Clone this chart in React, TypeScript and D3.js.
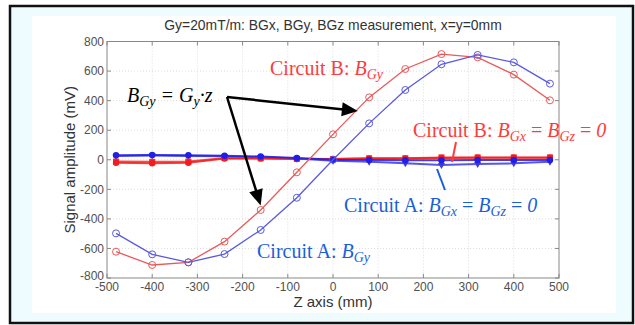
import React from 'react';
import * as d3 from 'd3';

// z positions (mm) where the field was sampled
const zPositions = [-480, -400, -320, -240, -160, -80, 0, 80, 160, 240, 320, 400, 480];

// Circuit A (blue) and circuit B (red), signal amplitude in mV
const circuitA_BGy = [-498, -640, -694, -638, -475, -257, 0, 246, 472, 646, 709, 659, 515];
const circuitB_BGy = [-622, -712, -694, -554, -340, -85, 172, 422, 614, 715, 693, 576, 402];
const circuitA_BGx = [30, 32, 30, 27, 22, 12, 0, -2, -3, -3, -2, -2, -2];
const circuitA_BGz = [25, 28, 26, 24, 18, 8, -6, -13, -24, -35, -29, -24, -13];
const circuitB_BGx = [-20, -24, -20, 8, 8, 5, 5, 8, 8, 12, 14, 14, 14];
const circuitB_BGz = [-12, -14, -12, 12, 10, 6, 5, 10, 10, 16, 16, 16, 16];

const xTicks = [-500, -400, -300, -200, -100, 0, 100, 200, 300, 400, 500];
const yTicks = [-800, -600, -400, -200, 0, 200, 400, 600, 800];

// arrow targets for the B_Gy = Gy·z note, in data units
const arrowTargets = [
  [55, 330],
  [-160, -310],
];

const W = 635;
const H = 325;
const sans = 'Liberation Sans, Arial, sans-serif';
const serif = 'Liberation Serif, Times New Roman, serif';

const RED = '#ff3b3b';
const BLUE = '#1a5fd8';

const x = d3.scaleLinear().domain([-500, 500]).range([107, 559]);
const y = d3.scaleLinear().domain([-800, 800]).range([278, 41.5]);

const lineFor = (vals: number[]) =>
  d3
    .line<number>()
    .x((_, i) => x(zPositions[i]))
    .y((d) => y(d))(vals) || '';

const Sub = ({ children }: { children: React.ReactNode }) => (
  <tspan fontSize={14} dy={4}>
    {children}
  </tspan>
);

function arrowHead(x0: number, y0: number, x1: number, y1: number, len = 16, half = 7) {
  const a = Math.atan2(y1 - y0, x1 - x0);
  const bx = x1 - len * Math.cos(a);
  const by = y1 - len * Math.sin(a);
  const px = -Math.sin(a) * half;
  const py = Math.cos(a) * half;
  return `${x1},${y1} ${bx + px},${by + py} ${bx - px},${by - py}`;
}

export default function App() {
  const [x0, y0] = [227, 97];
  const flatSeries = [
    { vals: circuitA_BGz, color: '#3a3ae0', marker: 'tri' },
    { vals: circuitB_BGz, color: '#f03030', marker: 'sq' },
    { vals: circuitB_BGx, color: '#f21c1c', marker: 'dot' },
    { vals: circuitA_BGx, color: '#1f1fe8', marker: 'dot' },
  ];

  return (
    <svg width={W} height={H} style={{ position: 'absolute', left: 0, top: 0 }}>
      <rect x={0} y={0} width={W} height={H} fill="#ffffff" />
      <rect x={10} y={6} width={623} height={317} fill="#effcff" stroke="#111" strokeWidth={2.5} />
      <rect x={32} y={16} width={584} height={297} fill="#ffffff" />

      {/* title */}
      <text x={333} y={30} textAnchor="middle" fontFamily={sans} fontSize={13.9} fill="#333">
        Gy=20mT/m: BGx, BGy, BGz measurement, x=y=0mm
      </text>

      {/* grid */}
      <g stroke="#dcdcdc" strokeWidth={1} strokeDasharray="1,2">
        {xTicks.slice(1, -1).map((t) => (
          <line key={'gx' + t} x1={x(t)} x2={x(t)} y1={y(800)} y2={y(-800)} />
        ))}
        {yTicks.slice(1, -1).map((t) => (
          <line key={'gy' + t} x1={x(-500)} x2={x(500)} y1={y(t)} y2={y(t)} />
        ))}
      </g>

      {/* box and inward ticks */}
      <rect x={x(-500)} y={y(800)} width={x(500) - x(-500)} height={y(-800) - y(800)} fill="none" stroke="#888" />
      <g stroke="#888">
        {xTicks.map((t) => (
          <g key={'tx' + t}>
            <line x1={x(t)} x2={x(t)} y1={y(-800)} y2={y(-800) - 4} />
            <line x1={x(t)} x2={x(t)} y1={y(800)} y2={y(800) + 4} />
          </g>
        ))}
        {yTicks.map((t) => (
          <g key={'ty' + t}>
            <line x1={x(-500)} x2={x(-500) + 4} y1={y(t)} y2={y(t)} />
            <line x1={x(500)} x2={x(500) - 4} y1={y(t)} y2={y(t)} />
          </g>
        ))}
      </g>

      {/* tick labels */}
      <g fontFamily={sans} fontSize={12} fill="#505050">
        {xTicks.map((t) => (
          <text key={'lx' + t} x={x(t)} y={291} textAnchor="middle">
            {t}
          </text>
        ))}
        {yTicks.map((t) => (
          <text key={'ly' + t} x={104} y={y(t)} dy={t === -800 ? '0.2em' : '0.35em'} textAnchor="end">
            {t}
          </text>
        ))}
      </g>
      <text x={333} y={307} textAnchor="middle" fontFamily={sans} fontSize={15} fill="#333">
        Z axis (mm)
      </text>
      <text
        transform={`translate(75, ${y(0)}) rotate(-90)`}
        textAnchor="middle"
        fontFamily={sans}
        fontSize={15}
        fill="#333"
      >
        Signal amplitude (mV)
      </text>

      {/* near-zero series */}
      {flatSeries.map((s, k) => (
        <g key={'f' + k}>
          <path d={lineFor(s.vals)} fill="none" stroke={s.color} strokeWidth={2} opacity={0.85} />
          {s.vals.map((v, i) => {
            const cx = x(zPositions[i]);
            const cy = y(v);
            if (s.marker === 'tri')
              return <polygon key={i} points={`${cx - 3.5},${cy - 2} ${cx + 3.5},${cy - 2} ${cx},${cy + 4}`} fill={s.color} />;
            if (s.marker === 'sq')
              return <rect key={i} x={cx - 3} y={cy - 3} width={6} height={6} fill={s.color} />;
            return <circle key={i} cx={cx} cy={cy} r={3.2} fill={s.color} />;
          })}
        </g>
      ))}

      {/* B_Gy series */}
      {[
        { vals: circuitB_BGy, color: '#e85a5a' },
        { vals: circuitA_BGy, color: '#5a5ae0' },
      ].map((s, k) => (
        <g key={'g' + k}>
          <path d={lineFor(s.vals)} fill="none" stroke={s.color} strokeWidth={1.3} />
          {s.vals.map((v, i) => (
            <circle key={i} cx={x(zPositions[i])} cy={y(v)} r={3.5} fill="none" stroke={s.color} strokeWidth={1} />
          ))}
        </g>
      ))}

      {/* annotations */}
      <g fontFamily={serif} fontSize={20}>
        <text x={270} y={75} fill={RED}>
          Circuit B: <tspan fontStyle="italic">B</tspan>
          <Sub>
            <tspan fontStyle="italic">Gy</tspan>
          </Sub>
        </text>
        <text x={127} y={102} fill="#000" fontStyle="italic">
          B<Sub>Gy</Sub>
          <tspan dy={-4}> = G</tspan>
          <Sub>y</Sub>
          <tspan dy={-4}>·z</tspan>
        </text>
        <text x={413} y={137} fill={RED}>
          Circuit B: <tspan fontStyle="italic">B</tspan>
          <tspan fontStyle="italic" fontSize={14} dy={4}>Gx</tspan>
          <tspan dy={-4}> = </tspan>
          <tspan fontStyle="italic">B</tspan>
          <tspan fontStyle="italic" fontSize={14} dy={4}>Gz</tspan>
          <tspan dy={-4}> = </tspan>
          <tspan fontStyle="italic">0</tspan>
        </text>
        <text x={344} y={212} fill={BLUE}>
          Circuit A: <tspan fontStyle="italic">B</tspan>
          <tspan fontStyle="italic" fontSize={14} dy={4}>Gx</tspan>
          <tspan dy={-4}> = </tspan>
          <tspan fontStyle="italic">B</tspan>
          <tspan fontStyle="italic" fontSize={14} dy={4}>Gz</tspan>
          <tspan dy={-4}> = </tspan>
          <tspan fontStyle="italic">0</tspan>
        </text>
        <text x={257} y={258} fill={BLUE}>
          Circuit A: <tspan fontStyle="italic">B</tspan>
          <tspan fontStyle="italic" fontSize={14} dy={4}>Gy</tspan>
        </text>
      </g>
      <line x1={456} y1={142} x2={452} y2={162} stroke={RED} strokeWidth={2} />
      <line x1={437} y1={169} x2={445} y2={190} stroke={BLUE} strokeWidth={2} />

      {arrowTargets.map(([tx, ty], i) => {
        const x1 = x(tx);
        const y1 = y(ty);
        const a = Math.atan2(y1 - y0, x1 - x0);
        return (
          <g key={'ar' + i}>
            <line x1={x0} y1={y0} x2={x1 - 12 * Math.cos(a)} y2={y1 - 12 * Math.sin(a)} stroke="#000" strokeWidth={2.5} />
            <polygon points={arrowHead(x0, y0, x1, y1)} fill="#000" />
          </g>
        );
      })}
    </svg>
  );
}
